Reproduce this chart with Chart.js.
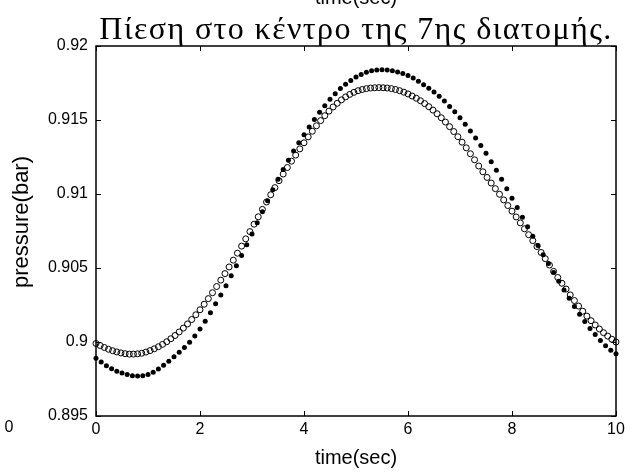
<!DOCTYPE html>
<html>
<head>
<meta charset="utf-8">
<script src="https://cdn.jsdelivr.net/npm/chart.js@4/dist/chart.umd.min.js"></script>
<style>
  html, body { margin: 0; padding: 0; background: #fff; }
  #wrap { width: 641px; height: 473px; }
</style>
</head>
<body>
<div id="wrap"><canvas id="c" width="641" height="473"></canvas></div>
<script>
// Labels and ticks
const TITLE = 'Πίεση στο κέντρο της 7ης διατομής.';
const X_LABEL = 'time(sec)';
const Y_LABEL = 'pressure(bar)';
const X_TICKS = [0, 2, 4, 6, 8, 10];
const Y_TICKS = [0.895, 0.9, 0.905, 0.91, 0.915, 0.92];

// Sampling interval (sec) of each series
const STEP_SOLID = 0.1;
const STEP_OPEN = 0.08;

// Pressure (bar), filled markers, one value every STEP_SOLID seconds
const pressureSolid = [
  0.89890, 0.89865, 0.89840, 0.89820, 0.89803, 0.89790, 0.89780, 0.89772, 0.89770, 0.89772,
  0.89780, 0.89795, 0.89817, 0.89843, 0.89870, 0.89900, 0.89930, 0.89962, 0.89998, 0.90040,
  0.90088, 0.90140, 0.90198, 0.90258, 0.90318, 0.90380, 0.90447, 0.90515, 0.90585, 0.90657,
  0.90730, 0.90805, 0.90880, 0.90955, 0.91028, 0.91100, 0.91165, 0.91228, 0.91290, 0.91346,
  0.91400, 0.91452, 0.91503, 0.91552, 0.91597, 0.91640, 0.91678, 0.91712, 0.91742, 0.91767,
  0.91790, 0.91808, 0.91822, 0.91832, 0.91838, 0.91840, 0.91838, 0.91833, 0.91825, 0.91814,
  0.91800, 0.91783, 0.91762, 0.91738, 0.91714, 0.91690, 0.91660, 0.91628, 0.91592, 0.91555,
  0.91515, 0.91472, 0.91426, 0.91378, 0.91327, 0.91275, 0.91218, 0.91160, 0.91100, 0.91036,
  0.90972, 0.90908, 0.90843, 0.90778, 0.90715, 0.90652, 0.90590, 0.90530, 0.90470, 0.90410,
  0.90352, 0.90295, 0.90240, 0.90187, 0.90138, 0.90092, 0.90050, 0.90010, 0.89975, 0.89945,
  0.89920
];

// Pressure (bar), open markers, one value every STEP_OPEN seconds
const pressureOpen = [
  0.89990, 0.89976, 0.89963, 0.89951, 0.89941, 0.89933, 0.89926, 0.89921, 0.89918, 0.89918,
  0.89920, 0.89924, 0.89932, 0.89942, 0.89954, 0.89968, 0.89984, 0.90002, 0.90022, 0.90044,
  0.90068, 0.90094, 0.90122, 0.90152, 0.90184, 0.90218, 0.90255, 0.90293, 0.90333, 0.90375,
  0.90418, 0.90462, 0.90507, 0.90553, 0.90600, 0.90648, 0.90697, 0.90746, 0.90796, 0.90846,
  0.90896, 0.90946, 0.90995, 0.91043, 0.91090, 0.91135, 0.91179, 0.91222, 0.91263, 0.91305,
  0.91346, 0.91386, 0.91424, 0.91461, 0.91496, 0.91529, 0.91560, 0.91588, 0.91613, 0.91636,
  0.91656, 0.91673, 0.91687, 0.91698, 0.91706, 0.91712, 0.91716, 0.91718, 0.91719, 0.91718,
  0.91716, 0.91712, 0.91706, 0.91698, 0.91688, 0.91676, 0.91662, 0.91647, 0.91630, 0.91611,
  0.91590, 0.91567, 0.91542, 0.91515, 0.91486, 0.91455, 0.91422, 0.91387, 0.91350, 0.91312,
  0.91272, 0.91231, 0.91189, 0.91150, 0.91112, 0.91074, 0.91036, 0.90998, 0.90960, 0.90922,
  0.90884, 0.90845, 0.90805, 0.90765, 0.90725, 0.90685, 0.90645, 0.90605, 0.90563, 0.90520,
  0.90477, 0.90436, 0.90397, 0.90358, 0.90318, 0.90280, 0.90243, 0.90208, 0.90175, 0.90144,
  0.90115, 0.90088, 0.90063, 0.90040, 0.90019, 0.90000
];

const toPoints = (vals, step) => vals.map((v, i) => ({ x: +(i * step).toFixed(3), y: v }));

const SANS = '"Liberation Sans", Arial, Helvetica, sans-serif';
const SERIF = '"Liberation Serif", "DejaVu Serif", serif';
const TICK_LEN = 5;

// Boxed frame with inward ticks on all four sides, the title over the plot
// area, the vertical axis label, and the stray text labels at the edges
const framePlugin = {
  id: 'frame',
  afterDraw(chart) {
    const { ctx, chartArea: a, scales: { x, y } } = chart;
    ctx.save();
    ctx.strokeStyle = '#000';
    ctx.lineWidth = 1.5;
    ctx.strokeRect(a.left, a.top, a.right - a.left, a.bottom - a.top);
    ctx.lineWidth = 1;
    ctx.beginPath();
    x.ticks.forEach(t => {
      const px = Math.round(x.getPixelForValue(t.value)) + 0.5;
      ctx.moveTo(px, a.bottom); ctx.lineTo(px, a.bottom - TICK_LEN);
      ctx.moveTo(px, a.top); ctx.lineTo(px, a.top + TICK_LEN);
    });
    y.ticks.forEach(t => {
      const py = Math.round(y.getPixelForValue(t.value)) + 0.5;
      ctx.moveTo(a.left, py); ctx.lineTo(a.left + TICK_LEN, py);
      ctx.moveTo(a.right, py); ctx.lineTo(a.right - TICK_LEN, py);
    });
    ctx.stroke();

    const cx = (a.left + a.right) / 2;
    ctx.fillStyle = '#000';
    ctx.textAlign = 'center';
    ctx.textBaseline = 'alphabetic';

    ctx.font = '32px ' + SERIF;
    ctx.letterSpacing = '1.4px';
    ctx.fillText(TITLE, cx, 39);
    ctx.letterSpacing = '0px';

    ctx.font = '20px ' + SANS;
    ctx.fillText(X_LABEL, cx, 4);

    // vertical axis label
    ctx.save();
    ctx.translate(22, 222);
    ctx.rotate(-Math.PI / 2);
    ctx.textBaseline = 'middle';
    ctx.font = '22px ' + SANS;
    ctx.fillText(Y_LABEL, 0, 0);
    ctx.restore();

    ctx.textBaseline = 'top';
    ctx.font = '16px ' + SANS;
    ctx.fillText('0', 9, a.bottom + 4);
    ctx.restore();
  }
};

new Chart(document.getElementById('c'), {
  type: 'scatter',
  data: {
    datasets: [
      {
        data: toPoints(pressureOpen, STEP_OPEN),
        pointStyle: 'circle',
        pointRadius: 3,
        pointBorderWidth: 1,
        pointBorderColor: '#000',
        pointBackgroundColor: 'rgba(255,255,255,0)',
        showLine: false,
        clip: false
      },
      {
        data: toPoints(pressureSolid, STEP_SOLID),
        pointStyle: 'circle',
        pointRadius: 2.5,
        pointBorderWidth: 0,
        pointBackgroundColor: '#000',
        showLine: false,
        clip: false
      }
    ]
  },
  options: {
    responsive: false,
    devicePixelRatio: 1,
    animation: false,
    events: [],
    layout: { padding: { left: 0, right: 25, top: 46, bottom: 0 } },
    plugins: {
      legend: { display: false },
      tooltip: { enabled: false },
      title: { display: false }
    },
    scales: {
      x: {
        type: 'linear',
        min: 0, max: 10,
        afterBuildTicks: s => { s.ticks = X_TICKS.map(v => ({ value: v })); },
        afterFit: s => { s.height = 57; },
        grid: { display: false, drawTicks: false },
        border: { display: false },
        ticks: { color: '#000', padding: 4, maxRotation: 0, font: { family: SANS, size: 16 }, callback: v => String(v) },
        title: { display: true, text: X_LABEL, color: '#000', font: { family: SANS, size: 20 }, padding: { bottom: 3 } }
      },
      y: {
        type: 'linear',
        min: 0.895, max: 0.92,
        afterBuildTicks: s => { s.ticks = Y_TICKS.map(v => ({ value: v })); },
        afterFit: s => { s.width = 96; },
        grid: { display: false, drawTicks: false },
        border: { display: false },
        ticks: { color: '#000', padding: 8, font: { family: SANS, size: 16 }, callback: v => String(+v.toFixed(3)) },
        title: { display: false }
      }
    }
  },
  plugins: [framePlugin]
});
</script>
</body>
</html>
